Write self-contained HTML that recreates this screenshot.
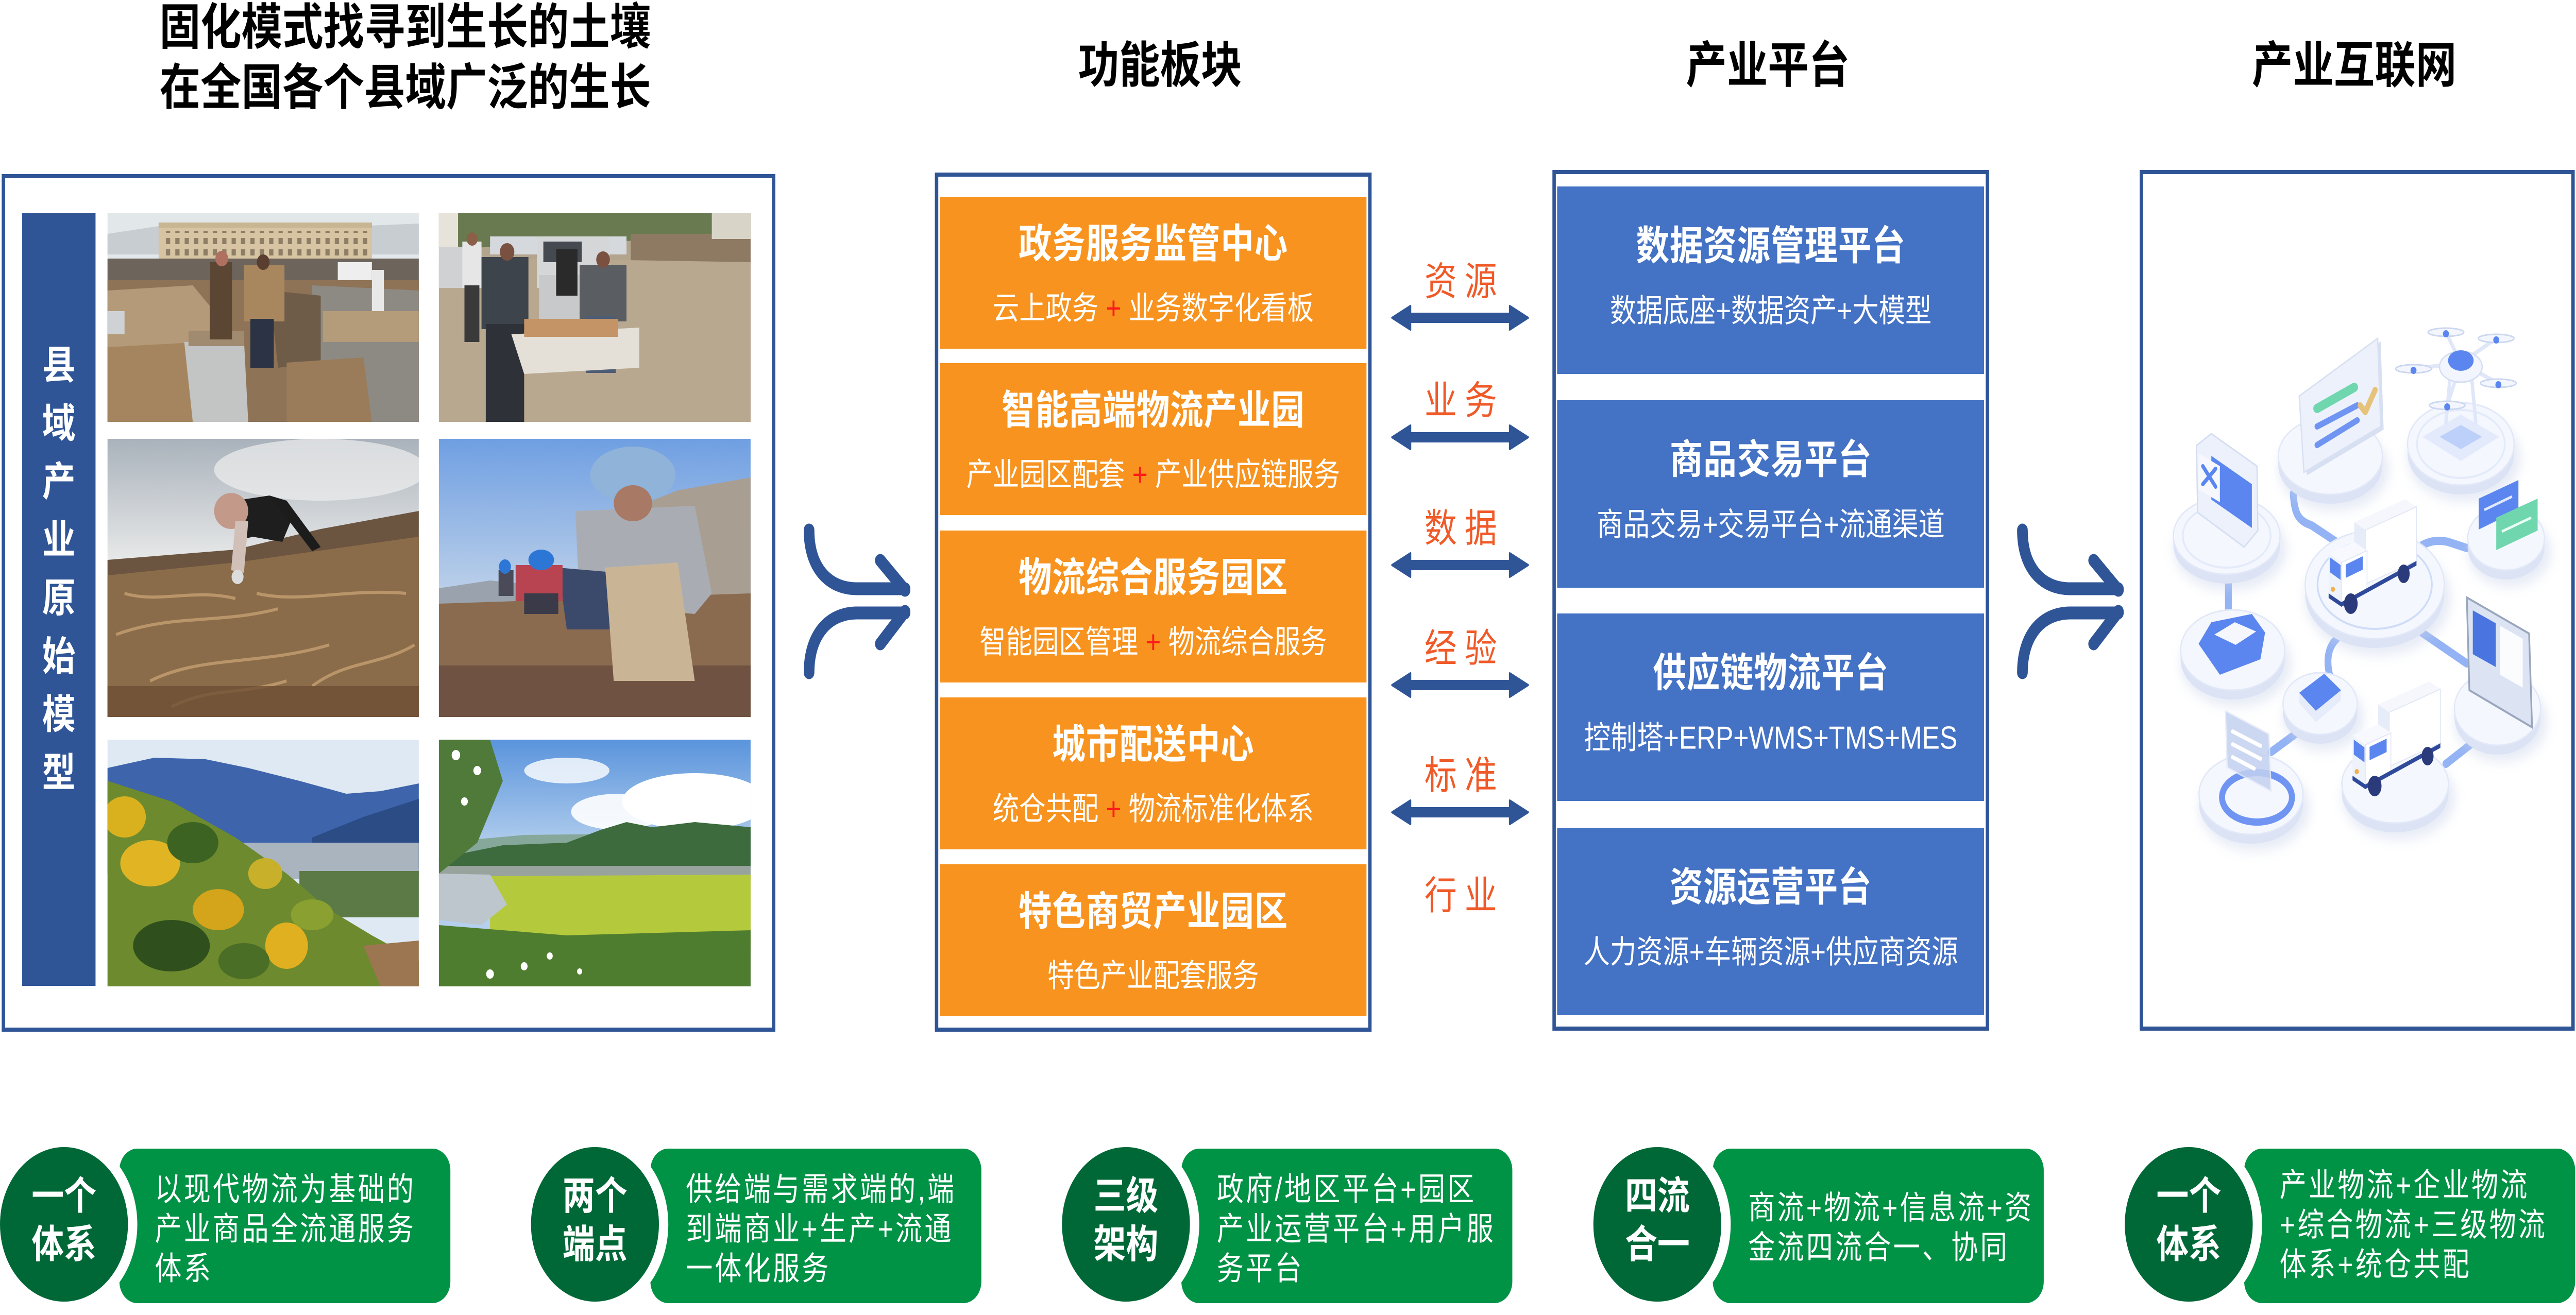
<!DOCTYPE html>
<html><head><meta charset="utf-8">
<style>
html,body{margin:0;padding:0;width:100%;height:100%;overflow:hidden;background:#fff}
svg.root{display:block;position:absolute;left:0;top:0;width:100vw;height:100vh}
text{font-family:"Liberation Sans","Noto Sans CJK SC",sans-serif;dominant-baseline:central}
.h{font-weight:700;font-size:96px;fill:#000}
.vt{font-weight:700;font-size:78px;fill:#fff}
.ti{font-weight:700;font-size:78px;fill:#fff;letter-spacing:1px}
.su{font-size:62px;fill:#fff}
.lb{font-size:76px;fill:#f05a28}
.ct{font-weight:700;font-size:76px;fill:#fff}
.rt{font-size:63px;fill:#fff;letter-spacing:5px}
</style></head><body>
<svg class="root" viewBox="0 0 6040 2553" preserveAspectRatio="none" xmlns="http://www.w3.org/2000/svg">
<defs>
<filter id="sh" x="-30%" y="-30%" width="160%" height="160%"><feGaussianBlur stdDeviation="12"/></filter>
<pattern id="win" width="22" height="22" patternUnits="userSpaceOnUse"><rect x="5" y="4" width="10" height="12" fill="#8f7e66"/></pattern>
<linearGradient id="s3" x1="0" y1="0" x2="0" y2="1"><stop offset="0" stop-color="#a9b2bb"/><stop offset="0.45" stop-color="#e9eaea"/><stop offset="1" stop-color="#e9eaea"/></linearGradient>
<linearGradient id="s4" x1="0" y1="0" x2="0" y2="1"><stop offset="0" stop-color="#6f9fe2"/><stop offset="0.6" stop-color="#c2d4ea"/></linearGradient>
<linearGradient id="s6" x1="0" y1="0" x2="0" y2="1"><stop offset="0" stop-color="#5a94dc"/><stop offset="0.45" stop-color="#b5d0ee"/></linearGradient>
<g id="truck">
<polygon points="70,50 190,5 216,20 96,65" fill="#f5f7fd"/>
<polygon points="70,50 96,65 96,165 70,150" fill="#e6ecf8"/>
<polygon points="96,65 216,20 216,125 96,170" fill="#ffffff" stroke="#e1e7f5" stroke-width="2"/>
<polygon points="10,110 70,88 100,105 40,128" fill="#f7f9fe"/>
<polygon points="10,110 40,128 40,205 10,188" fill="#eef2fb"/>
<polygon points="40,128 100,105 100,180 40,205" fill="#ffffff" stroke="#e1e7f5" stroke-width="2"/>
<polygon points="13,118 38,133 38,162 13,147" fill="#5b86f0"/>
<polygon points="50,132 90,116 90,142 50,158" fill="#5b86f0"/>
<circle cx="20" cy="180" r="5" fill="#f0b050"/>
<polygon points="10,188 40,205 216,125 216,134 40,214 10,197" fill="#2f4a9a"/>
<ellipse cx="62" cy="208" rx="16" ry="20" fill="#2a3a7a"/>
<ellipse cx="186" cy="150" rx="14" ry="18" fill="#2a3a7a"/>
</g>
</defs>
<rect x="0" y="0" width="6040" height="2553" fill="#fff"/>

<!-- TITLES -->
<text class="h" x="950" y="53" text-anchor="middle">固化模式找寻到生长的土壤</text>
<text class="h" x="950" y="170" text-anchor="middle">在全国各个县域广泛的生长</text>
<text class="h" x="2720" y="127" text-anchor="middle">功能板块</text>
<text class="h" x="4145" y="127" text-anchor="middle">产业平台</text>
<text class="h" x="5520" y="127" text-anchor="middle">产业互联网</text>

<!-- LEFT PANEL -->
<rect x="8" y="342" width="1806" height="1657" fill="#fff" stroke="#2F5597" stroke-width="8"/>
<rect x="52" y="414" width="172" height="1500" fill="#2F5597"/>
<g class="vt" text-anchor="middle">
<text class="vt" x="138" y="710" text-anchor="middle">县</text>
<text class="vt" x="138" y="823" text-anchor="middle">域</text>
<text class="vt" x="138" y="936" text-anchor="middle">产</text>
<text class="vt" x="138" y="1049" text-anchor="middle">业</text>
<text class="vt" x="138" y="1162" text-anchor="middle">原</text>
<text class="vt" x="138" y="1275" text-anchor="middle">始</text>
<text class="vt" x="138" y="1388" text-anchor="middle">模</text>
<text class="vt" x="138" y="1501" text-anchor="middle">型</text>
</g>

<!-- photo 1 -->
<svg x="252" y="414" width="730" height="405" viewBox="0 0 730 405" preserveAspectRatio="none">
<rect width="730" height="405" fill="#e2e7ea"/>
<polygon points="0,40 120,25 300,35 730,20 730,80 0,80" fill="#c7cdd1"/>
<rect x="120" y="18" width="500" height="80" fill="#d6c4a2"/>
<rect x="120" y="18" width="500" height="10" fill="#c8b592"/>
<rect x="130" y="34" width="480" height="50" fill="url(#win)"/>
<rect x="0" y="88" width="730" height="62" fill="#6d655c"/>
<rect x="540" y="95" width="80" height="40" fill="#eeeeee"/>
<rect x="0" y="130" width="730" height="275" fill="#8f7356"/>
<polygon points="0,150 200,140 260,200 240,405 0,405" fill="#b49a78"/>
<polygon points="0,260 220,250 230,405 0,405" fill="#a4855f"/>
<rect x="0" y="190" width="40" height="45" fill="#cfd2d4"/>
<polygon points="180,250 320,245 330,405 200,405" fill="#c3c4c4"/>
<rect x="190" y="228" width="130" height="30" fill="#a08a70"/>
<polygon points="480,140 730,150 730,405 470,405" fill="#8d8a84"/>
<rect x="505" y="190" width="225" height="60" fill="#b49c7a"/>
<polygon points="380,150 500,160 500,290 400,300" fill="#6f5c48"/>
<polygon points="420,290 600,280 620,405 420,405" fill="#9a7b5a"/>
<rect x="240" y="95" width="52" height="150" fill="#5b4634"/>
<circle cx="268" cy="88" r="15" fill="#b07060"/>
<rect x="320" y="100" width="95" height="110" fill="#a8875f"/>
<rect x="335" y="205" width="55" height="95" fill="#2b3345"/>
<circle cx="365" cy="95" r="15" fill="#5a3e30"/>
<rect x="620" y="110" width="28" height="80" fill="#e8e8e8"/>
</svg>

<!-- photo 2 -->
<svg x="1029" y="414" width="731" height="405" viewBox="0 0 731 405" preserveAspectRatio="none">
<rect width="731" height="405" fill="#b3a48e"/>
<polygon points="0,0 731,0 731,45 400,55 0,70" fill="#6a7a50"/>
<rect x="0" y="0" width="45" height="75" fill="#e7e3da"/>
<rect x="120" y="45" width="320" height="35" fill="#d5d8dc"/>
<rect x="450" y="40" width="281" height="60" fill="#8e7a62"/>
<rect x="640" y="0" width="91" height="50" fill="#d8d4c8"/>
<polygon points="0,85 731,95 731,405 0,405" fill="#b9a890"/>
<rect x="0" y="65" width="80" height="80" fill="#cfd1d2"/>
<rect x="230" y="45" width="170" height="100" fill="#d4d6d8"/>
<rect x="245" y="55" width="90" height="40" fill="#444a50"/>
<rect x="235" y="120" width="200" height="90" fill="#c8c9ca"/>
<rect x="55" y="55" width="45" height="90" fill="#e6e6e6"/>
<rect x="60" y="140" width="35" height="110" fill="#3a3a3a"/>
<circle cx="78" cy="50" r="13" fill="#8a6048"/>
<rect x="100" y="85" width="110" height="140" fill="#3d444b"/>
<rect x="110" y="215" width="90" height="190" fill="#2e3238"/>
<circle cx="160" cy="75" r="17" fill="#7a5040"/>
<rect x="275" y="70" width="50" height="90" fill="#2a2a2a"/>
<rect x="330" y="100" width="110" height="110" fill="#5a5e62"/>
<rect x="345" y="200" width="70" height="110" fill="#4e5c74"/>
<circle cx="385" cy="90" r="16" fill="#7a5040"/>
<polygon points="170,235 470,222 470,300 200,312" fill="#e4e0d8"/>
<rect x="200" y="205" width="220" height="35" fill="#c49466"/>
</svg>

<!-- photo 3 -->
<svg x="252" y="852" width="730" height="540" viewBox="0 0 730 540" preserveAspectRatio="none">
<rect width="730" height="540" fill="url(#s3)"/>
<ellipse cx="500" cy="60" rx="250" ry="60" fill="#eeeeee" opacity=".7"/>
<polygon points="0,235 300,215 500,175 730,140 730,540 0,540" fill="#6b5440"/>
<polygon points="0,265 300,240 730,190 730,540 0,540" fill="#8b6c4a"/>
<g stroke="#c6a072" stroke-width="6" fill="none" opacity=".8">
<path d="M20,380 C150,340 260,360 400,330"/><path d="M100,470 C220,420 360,440 520,400"/><path d="M350,300 C450,320 560,290 700,300"/><path d="M40,300 C120,320 200,290 300,310"/><path d="M480,480 C560,430 640,440 720,400"/><path d="M150,520 C250,480 300,500 420,470"/>
</g>
<rect y="480" width="730" height="60" fill="#6e4f33" opacity=".8"/>
<polygon points="300,120 380,110 430,160 410,200 340,190 300,200" fill="#1e1e1e"/>
<polygon points="380,110 420,120 500,210 480,218" fill="#1c1c1c"/>
<ellipse cx="290" cy="140" rx="40" ry="35" fill="#c39a8a"/>
<polygon points="300,160 330,160 320,260 290,255" fill="#d0c0b8"/>
<circle cx="305" cy="268" r="14" fill="#dcdcdc"/>
</svg>

<!-- photo 4 -->
<svg x="1029" y="852" width="731" height="540" viewBox="0 0 731 540" preserveAspectRatio="none">
<rect width="731" height="540" fill="url(#s4)"/>
<polygon points="440,140 560,100 731,75 731,320 440,320" fill="#a99e92"/>
<polygon points="0,290 120,275 250,285 250,330 0,330" fill="#9aa3ad"/>
<polygon points="0,320 731,300 731,540 0,540" fill="#8a6b50"/>
<rect y="440" width="731" height="100" fill="#6f5241"/>
<polygon points="320,140 600,130 640,300 600,340 330,320" fill="#a9adb3"/>
<ellipse cx="455" cy="70" rx="100" ry="55" fill="#8fb3d9"/>
<ellipse cx="455" cy="125" rx="45" ry="35" fill="#a87a66"/>
<polygon points="280,250 420,260 400,370 300,370" fill="#3b4a6b"/>
<polygon points="390,250 560,240 600,470 410,470" fill="#c9b596"/>
<rect x="180" y="245" width="110" height="70" fill="#b84452"/>
<ellipse cx="240" cy="235" rx="30" ry="20" fill="#2c77d6"/>
<rect x="200" y="300" width="80" height="40" fill="#3a3a48"/>
<rect x="140" y="255" width="35" height="50" fill="#4a4a58"/>
<circle cx="155" cy="248" r="14" fill="#2c77d6"/>
</svg>

<!-- photo 5 -->
<svg x="252" y="1436" width="730" height="479" viewBox="0 0 730 479" preserveAspectRatio="none">
<rect width="730" height="479" fill="#dfe9f3"/>
<polygon points="0,55 110,35 230,38 330,55 450,80 560,105 640,100 730,85 730,260 0,260" fill="#3e64ab"/>
<polygon points="480,190 600,150 730,115 730,250 480,250" fill="#2c4c86"/>
<rect x="300" y="200" width="430" height="70" fill="#aab4be"/>
<rect x="450" y="255" width="280" height="90" fill="#5b7a45"/>
<polygon points="0,80 150,120 300,190 420,260 520,330 620,380 730,430 730,479 0,479" fill="#6d8a2e"/>
<ellipse cx="40" cy="150" rx="50" ry="40" fill="#d9b11e"/>
<ellipse cx="100" cy="240" rx="70" ry="45" fill="#e1b423"/>
<ellipse cx="260" cy="330" rx="60" ry="40" fill="#d4a41a"/>
<ellipse cx="420" cy="400" rx="50" ry="45" fill="#e0b020"/>
<ellipse cx="370" cy="260" rx="40" ry="30" fill="#c8b02a"/>
<ellipse cx="200" cy="200" rx="60" ry="40" fill="#3d6322"/>
<ellipse cx="150" cy="400" rx="90" ry="50" fill="#2f4f1c"/>
<ellipse cx="320" cy="430" rx="60" ry="35" fill="#4b6e26"/>
<ellipse cx="480" cy="340" rx="50" ry="30" fill="#8aa030"/>
<polygon points="600,400 730,390 730,479 640,479" fill="#9b7650"/>
</svg>

<!-- photo 6 -->
<svg x="1029" y="1436" width="731" height="479" viewBox="0 0 731 479" preserveAspectRatio="none">
<rect width="731" height="479" fill="url(#s6)"/>
<ellipse cx="600" cy="120" rx="170" ry="55" fill="#fff"/>
<ellipse cx="420" cy="140" rx="110" ry="35" fill="#fff" opacity=".9"/>
<ellipse cx="300" cy="60" rx="100" ry="25" fill="#fff" opacity=".8"/>
<polygon points="0,200 200,185 731,180 731,235 0,235" fill="#86a89a"/>
<polygon points="0,230 150,205 300,200 380,175 440,160 500,170 600,160 731,170 731,250 0,250" fill="#3d6b3d"/>
<rect y="245" width="731" height="25" fill="#98a39e"/>
<polygon points="120,265 731,262 731,400 120,400" fill="#b4c93c"/>
<polygon points="0,260 120,262 160,320 100,360 0,350" fill="#bcc6cc"/>
<polygon points="0,360 300,380 731,370 731,479 0,479" fill="#4f7d2f"/>
<polygon points="0,0 120,0 150,80 90,200 0,260" fill="#4f7a3a"/>
<g fill="#fff"><circle cx="40" cy="30" r="10"/><circle cx="90" cy="60" r="9"/><circle cx="60" cy="120" r="8"/><circle cx="200" cy="440" r="8"/><circle cx="260" cy="420" r="7"/><circle cx="120" cy="455" r="9"/><circle cx="330" cy="450" r="6"/></g>
</svg>

<!-- ORANGE PANEL -->
<rect x="2196" y="339" width="1016" height="1660" fill="#fff" stroke="#2F5597" stroke-width="8"/>
<g fill="#F7931E">
<rect x="2204" y="382" width="1000" height="295"/>
<rect x="2204" y="705" width="1000" height="295"/>
<rect x="2204" y="1030" width="1000" height="295"/>
<rect x="2204" y="1354" width="1000" height="295"/>
<rect x="2204" y="1678" width="1000" height="295"/>
</g>
<text class="ti" x="2704" y="474" text-anchor="middle">政务服务监管中心</text>
<text class="su" x="2704" y="599" text-anchor="middle">云上政务 <tspan fill="#ff1a1a">+</tspan> 业务数字化看板</text>
<text class="ti" x="2704" y="797" text-anchor="middle">智能高端物流产业园</text>
<text class="su" x="2704" y="922" text-anchor="middle">产业园区配套 <tspan fill="#ff1a1a">+</tspan> 产业供应链服务</text>
<text class="ti" x="2704" y="1122" text-anchor="middle">物流综合服务园区</text>
<text class="su" x="2704" y="1247" text-anchor="middle">智能园区管理 <tspan fill="#ff1a1a">+</tspan> 物流综合服务</text>
<text class="ti" x="2704" y="1446" text-anchor="middle">城市配送中心</text>
<text class="su" x="2704" y="1571" text-anchor="middle">统仓共配 <tspan fill="#ff1a1a">+</tspan> 物流标准化体系</text>
<text class="ti" x="2704" y="1770" text-anchor="middle">特色商贸产业园区</text>
<text class="su" x="2704" y="1895" text-anchor="middle">特色产业配套服务</text>

<!-- BLUE PANEL -->
<rect x="3644" y="334" width="1016" height="1663" fill="#fff" stroke="#2F5597" stroke-width="8"/>
<g fill="#4472C4">
<rect x="3651" y="362" width="1001" height="364"/>
<rect x="3651" y="777" width="1001" height="364"/>
<rect x="3651" y="1191" width="1001" height="364"/>
<rect x="3651" y="1607" width="1001" height="364"/>
</g>
<text class="ti" x="4152" y="478" text-anchor="middle">数据资源管理平台</text>
<text class="su" x="4152" y="604" text-anchor="middle">数据底座+数据资产+大模型</text>
<text class="ti" x="4152" y="893" text-anchor="middle">商品交易平台</text>
<text class="su" x="4152" y="1019" text-anchor="middle">商品交易+交易平台+流通渠道</text>
<text class="ti" x="4152" y="1307" text-anchor="middle">供应链物流平台</text>
<text class="su" x="4152" y="1433" text-anchor="middle">控制塔+ERP+WMS+TMS+MES</text>
<text class="ti" x="4152" y="1723" text-anchor="middle">资源运营平台</text>
<text class="su" x="4152" y="1849" text-anchor="middle">人力资源+车辆资源+供应商资源</text>

<!-- labels -->
<g>
<text class="lb" x="3378" y="547" text-anchor="middle">资</text><text class="lb" x="3472" y="547" text-anchor="middle">源</text>
<text class="lb" x="3378" y="778" text-anchor="middle">业</text><text class="lb" x="3472" y="778" text-anchor="middle">务</text>
<text class="lb" x="3378" y="1026" text-anchor="middle">数</text><text class="lb" x="3472" y="1026" text-anchor="middle">据</text>
<text class="lb" x="3378" y="1259" text-anchor="middle">经</text><text class="lb" x="3472" y="1259" text-anchor="middle">验</text>
<text class="lb" x="3378" y="1506" text-anchor="middle">标</text><text class="lb" x="3472" y="1506" text-anchor="middle">准</text>
<text class="lb" x="3378" y="1739" text-anchor="middle">行</text><text class="lb" x="3472" y="1739" text-anchor="middle">业</text>
</g>

<!-- double arrows -->
<g fill="#2F5597" stroke="#2F5597" stroke-width="4" stroke-linejoin="round">
<polygon points="3264,617 3307,594 3307,609 3540,609 3540,594 3583,617 3540,640 3540,625 3307,625 3307,640"/>
<polygon points="3264,849 3307,826 3307,841 3540,841 3540,826 3583,849 3540,872 3540,857 3307,857 3307,872"/>
<polygon points="3264,1097 3307,1074 3307,1089 3540,1089 3540,1074 3583,1097 3540,1120 3540,1105 3307,1105 3307,1120"/>
<polygon points="3264,1330 3307,1307 3307,1322 3540,1322 3540,1307 3583,1330 3540,1353 3540,1338 3307,1338 3307,1353"/>
<polygon points="3264,1577 3307,1554 3307,1569 3540,1569 3540,1554 3583,1577 3540,1600 3540,1585 3307,1585 3307,1600"/>
</g>

<!-- merge arrows -->
<g fill="none" stroke="#2F5597" stroke-width="25" stroke-linecap="round" stroke-linejoin="round">
<path d="M1897,1029 C1897,1100 1940,1143 2010,1143 L2122,1143"/>
<path d="M1897,1306 C1897,1235 1940,1190 2010,1190 L2122,1190"/>
<path d="M2064,1088 L2122,1146"/>
<path d="M2122,1187 L2064,1250"/>
<path d="M4742,1029 C4742,1100 4785,1143 4855,1143 L4967,1143"/>
<path d="M4742,1306 C4742,1235 4785,1190 4855,1190 L4967,1190"/>
<path d="M4909,1088 L4967,1146"/>
<path d="M4967,1187 L4909,1250"/>
</g>

<!-- RIGHT PANEL -->
<rect x="5021" y="334" width="1012" height="1663" fill="#fff" stroke="#2F5597" stroke-width="8"/>

<!-- connectors -->
<g stroke="#93b3f5" stroke-width="16" fill="none" stroke-linecap="round" stroke-linejoin="round">
<path d="M5377,958 C5380,1000 5390,1011 5420,1020 L5478,1052"/>
<path d="M5680,1058 C5700,1050 5715,1048 5740,1052 L5784,1064"/>
<path d="M5225,1125 L5225,1200"/>
<path d="M5680,1229 L5784,1288"/>
<path d="M5478,1241 C5455,1260 5455,1290 5464,1315"/>
<path d="M5384,1424 L5325,1460"/>
<path d="M5735,1483 L5798,1442"/>
</g>

<!-- disc C drone -->
<ellipse cx="5778" cy="888" rx="133" ry="86" fill="#c9d3ea" opacity=".45" filter="url(#sh)"/>
<ellipse cx="5770" cy="880" rx="125" ry="80" fill="#dbe3f5"/><rect x="5645" y="862" width="250" height="18" fill="#dbe3f5"/>
<ellipse cx="5770" cy="862" rx="125" ry="80" fill="#f4f7fe" stroke="#e2e8f7" stroke-width="3"/>
<ellipse cx="5770" cy="862" rx="103" ry="66" fill="none" stroke="#e3eaf9" stroke-width="4"/>
<polygon points="5680,848 5770,805 5860,848 5770,895" fill="#e2eafb"/>
<polygon points="5720,848 5770,825 5820,848 5770,872" fill="#bcd0fa"/>
<g stroke="#e0e7f8" stroke-width="8" stroke-linecap="round"><line x1="5745" y1="730" x2="5735" y2="820"/><line x1="5795" y1="730" x2="5805" y2="820"/>
<line x1="5770" y1="705" x2="5735" y2="645"/><line x1="5770" y1="705" x2="5853" y2="657"/><line x1="5770" y1="705" x2="5659" y2="716"/><line x1="5770" y1="705" x2="5858" y2="744"/><line x1="5770" y1="705" x2="5738" y2="787"/></g>
<ellipse cx="5770" cy="712" rx="50" ry="30" fill="#f2f5fd" stroke="#d6def2" stroke-width="3"/>
<ellipse cx="5770" cy="700" rx="30" ry="20" fill="#5b86f0"/>
<g fill="#f3f6fd" stroke="#ccd7f0" stroke-width="3"><ellipse cx="5735" cy="645" rx="42" ry="8"/><ellipse cx="5853" cy="657" rx="42" ry="8"/><ellipse cx="5659" cy="716" rx="42" ry="8"/><ellipse cx="5858" cy="744" rx="42" ry="8"/><ellipse cx="5738" cy="787" rx="42" ry="8"/></g>
<g fill="#5b86f0"><circle cx="5735" cy="648" r="7"/><circle cx="5853" cy="660" r="7"/><circle cx="5659" cy="719" r="7"/><circle cx="5858" cy="747" r="7"/><circle cx="5738" cy="790" r="7"/></g>

<!-- disc B doc -->
<ellipse cx="5472" cy="911" rx="130" ry="81" fill="#c9d3ea" opacity=".45" filter="url(#sh)"/>
<ellipse cx="5464" cy="903" rx="122" ry="75" fill="#dbe3f5"/><rect x="5342" y="885" width="244" height="18" fill="#dbe3f5"/>
<ellipse cx="5464" cy="885" rx="122" ry="75" fill="#f4f7fe" stroke="#e2e8f7" stroke-width="3"/>
<polygon points="5398,775 5582,663 5589,834 5409,923" fill="#d7dff2"/>
<polygon points="5391,769 5575,657 5582,828 5402,917" fill="#edf1fb" stroke="#d9e0f2" stroke-width="3"/>
<line x1="5433" y1="793" x2="5520" y2="752" stroke="#6fd6ad" stroke-width="18" stroke-linecap="round"/>
<line x1="5433" y1="828" x2="5527" y2="787" stroke="#6f94f2" stroke-width="12" stroke-linecap="round"/>
<line x1="5433" y1="864" x2="5527" y2="816" stroke="#6f94f2" stroke-width="12" stroke-linecap="round"/>
<polyline points="5534,787 5546,800 5569,757" fill="none" stroke="#e6c27a" stroke-width="12" stroke-linecap="round" stroke-linejoin="round"/>

<!-- disc A card -->
<ellipse cx="5229" cy="1066" rx="133" ry="81" fill="#c9d3ea" opacity=".45" filter="url(#sh)"/>
<ellipse cx="5221" cy="1058" rx="125" ry="75" fill="#dbe3f5"/><rect x="5096" y="1040" width="250" height="18" fill="#dbe3f5"/>
<ellipse cx="5221" cy="1040" rx="125" ry="75" fill="#f4f7fe" stroke="#e2e8f7" stroke-width="3"/>
<ellipse cx="5221" cy="1040" rx="103" ry="62" fill="none" stroke="#e3eaf9" stroke-width="4"/>
<polygon points="5150,865 5185,842 5292,905 5294,1030 5262,1062 5153,995" fill="#edf1fb" stroke="#d5ddf2" stroke-width="3"/>
<polygon points="5185,885 5280,940 5280,1025 5185,970" fill="#5b86f0"/>
<polygon points="5155,880 5205,905 5205,975 5155,950" fill="#f6f8fe"/>
<path d="M5165,905 L5195,945 M5195,910 L5165,940" stroke="#5b86f0" stroke-width="8" stroke-linecap="round"/>

<!-- disc D bars -->
<ellipse cx="5884" cy="1071" rx="98" ry="68" fill="#c9d3ea" opacity=".45" filter="url(#sh)"/>
<ellipse cx="5876" cy="1063" rx="90" ry="62" fill="#dbe3f5"/><rect x="5786" y="1045" width="180" height="18" fill="#dbe3f5"/>
<ellipse cx="5876" cy="1045" rx="90" ry="62" fill="#f4f7fe" stroke="#e2e8f7" stroke-width="3"/>
<polygon points="5812,968 5905,932 5905,990 5812,1028" fill="#5b86f0"/>
<line x1="5825" y1="990" x2="5890" y2="964" stroke="#dfe8ff" stroke-width="5"/>
<polygon points="5853,1005 5950,968 5950,1030 5853,1068" fill="#6fd6ad"/>
<line x1="5866" y1="1032" x2="5935" y2="1005" stroke="#e8fff5" stroke-width="5"/>

<!-- disc E truck -->
<ellipse cx="5576" cy="1161" rx="171" ry="111" fill="#c9d3ea" opacity=".45" filter="url(#sh)"/>
<ellipse cx="5568" cy="1153" rx="163" ry="105" fill="#dbe3f5"/><rect x="5405" y="1135" width="326" height="18" fill="#dbe3f5"/>
<ellipse cx="5568" cy="1135" rx="163" ry="105" fill="#f4f7fe" stroke="#e2e8f7" stroke-width="3"/>
<ellipse cx="5568" cy="1135" rx="134" ry="86" fill="none" stroke="#cfdcf8" stroke-width="4"/>
<use href="#truck" x="5450" y="964"/>

<!-- disc F hex -->
<ellipse cx="5243" cy="1288" rx="130" ry="84" fill="#c9d3ea" opacity=".45" filter="url(#sh)"/>
<ellipse cx="5235" cy="1280" rx="122" ry="78" fill="#dbe3f5"/><rect x="5113" y="1262" width="244" height="18" fill="#dbe3f5"/>
<ellipse cx="5235" cy="1262" rx="122" ry="78" fill="#f4f7fe" stroke="#e2e8f7" stroke-width="3"/>
<polygon points="5155,1250 5185,1208 5280,1192 5311,1228 5300,1280 5205,1310" fill="#5b86f0"/>
<polygon points="5192,1232 5240,1208 5290,1226 5242,1252" fill="#f5f7fd"/>

<!-- disc G -->
<ellipse cx="5448" cy="1392" rx="95" ry="66" fill="#c9d3ea" opacity=".45" filter="url(#sh)"/>
<ellipse cx="5440" cy="1384" rx="87" ry="60" fill="#dbe3f5"/><rect x="5353" y="1366" width="174" height="18" fill="#dbe3f5"/>
<ellipse cx="5440" cy="1366" rx="87" ry="60" fill="#f4f7fe" stroke="#e2e8f7" stroke-width="3"/>
<polygon points="5391,1345 5430,1380 5489,1340 5489,1360 5430,1402 5391,1365" fill="#e6ecf9"/>
<polygon points="5391,1345 5450,1308 5489,1340 5430,1380" fill="#5b86f0"/>

<!-- disc J panel -->
<ellipse cx="5864" cy="1401" rx="109" ry="78" fill="#c9d3ea" opacity=".45" filter="url(#sh)"/>
<ellipse cx="5856" cy="1393" rx="101" ry="72" fill="#dbe3f5"/><rect x="5755" y="1375" width="202" height="18" fill="#dbe3f5"/>
<ellipse cx="5856" cy="1375" rx="101" ry="72" fill="#f4f7fe" stroke="#e2e8f7" stroke-width="3"/>
<polygon points="5784,1160 5930,1230 5937,1412 5790,1340" fill="#dce4f4" stroke="#9aa6bc" stroke-width="4"/>
<polygon points="5798,1185 5852,1210 5852,1295 5798,1270" fill="#4a74e0"/>
<polygon points="5862,1215 5915,1240 5915,1335 5862,1310" fill="#fbfcfe"/>

<!-- disc I truck -->
<ellipse cx="5624" cy="1548" rx="133" ry="82" fill="#c9d3ea" opacity=".45" filter="url(#sh)"/>
<ellipse cx="5616" cy="1540" rx="125" ry="76" fill="#dbe3f5"/><rect x="5491" y="1522" width="250" height="18" fill="#dbe3f5"/>
<ellipse cx="5616" cy="1522" rx="125" ry="76" fill="#f4f7fe" stroke="#e2e8f7" stroke-width="3"/>
<use href="#truck" x="5506" y="1318"/>

<!-- disc H glass -->
<ellipse cx="5286" cy="1568" rx="130" ry="84" fill="#c9d3ea" opacity=".45" filter="url(#sh)"/>
<ellipse cx="5278" cy="1560" rx="122" ry="78" fill="#dbe3f5"/><rect x="5156" y="1542" width="244" height="18" fill="#dbe3f5"/>
<ellipse cx="5278" cy="1542" rx="122" ry="78" fill="#f4f7fe" stroke="#e2e8f7" stroke-width="3"/>
<ellipse cx="5292" cy="1548" rx="82" ry="48" fill="none" stroke="#6f94f2" stroke-width="14"/>
<polygon points="5218,1380 5320,1425 5325,1536 5222,1490" fill="#c4d2f0" opacity=".85" stroke="#e6ecf8" stroke-width="3"/>
<g stroke="#fff" stroke-width="8" stroke-linecap="round"><line x1="5235" y1="1420" x2="5300" y2="1448"/><line x1="5235" y1="1445" x2="5300" y2="1473"/><line x1="5235" y1="1470" x2="5285" y2="1492"/></g>

<!-- BOTTOM ITEMS -->
<g fill="#009245">
<rect x="280" y="2230" width="776" height="300" rx="42"/>
<rect x="1525" y="2230" width="776" height="300" rx="42"/>
<rect x="2770" y="2230" width="776" height="300" rx="42"/>
<rect x="4016" y="2230" width="776" height="300" rx="42"/>
<rect x="5262" y="2230" width="776" height="300" rx="42"/>
</g>
<g fill="#006837" stroke="#fff" stroke-width="22">
<circle cx="150" cy="2377" r="161"/>
<circle cx="1395" cy="2377" r="161"/>
<circle cx="2640" cy="2377" r="161"/>
<circle cx="3886" cy="2377" r="161"/>
<circle cx="5132" cy="2377" r="161"/>
</g>

<text class="ct" x="150" y="2322" text-anchor="middle">一个</text>
<text class="ct" x="150" y="2416" text-anchor="middle">体系</text>
<text class="ct" x="1395" y="2322" text-anchor="middle">两个</text>
<text class="ct" x="1395" y="2416" text-anchor="middle">端点</text>
<text class="ct" x="2640" y="2322" text-anchor="middle">三级</text>
<text class="ct" x="2640" y="2416" text-anchor="middle">架构</text>
<text class="ct" x="3886" y="2322" text-anchor="middle">四流</text>
<text class="ct" x="3886" y="2416" text-anchor="middle">合一</text>
<text class="ct" x="5132" y="2322" text-anchor="middle">一个</text>
<text class="ct" x="5132" y="2416" text-anchor="middle">体系</text>

<text class="rt" x="363" y="2310">以现代物流为基础的</text>
<text class="rt" x="363" y="2387">产业商品全流通服务</text>
<text class="rt" x="363" y="2464">体系</text>

<text class="rt" x="1608" y="2310">供给端与需求端的,端</text>
<text class="rt" x="1608" y="2387">到端商业+生产+流通</text>
<text class="rt" x="1608" y="2464">一体化服务</text>

<text class="rt" x="2853" y="2310">政府/地区平台+园区</text>
<text class="rt" x="2853" y="2387">产业运营平台+用户服</text>
<text class="rt" x="2853" y="2464">务平台</text>

<text class="rt" x="4099" y="2346">商流+物流+信息流+资</text>
<text class="rt" x="4099" y="2423">金流四流合一、协同</text>

<text class="rt" x="5345" y="2302">产业物流+企业物流</text>
<text class="rt" x="5345" y="2379">+综合物流+三级物流</text>
<text class="rt" x="5345" y="2456">体系+统仓共配</text>
</svg>
</body></html>
